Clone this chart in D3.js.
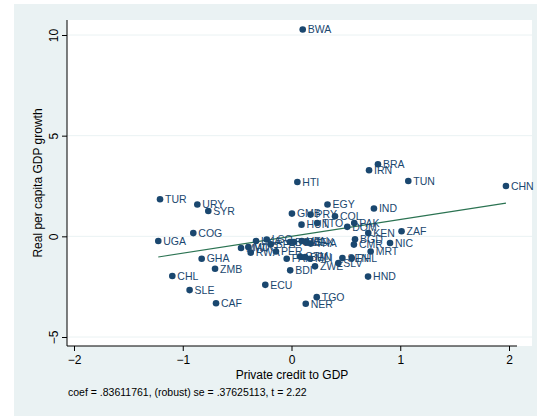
<!DOCTYPE html>
<html>
<head>
<meta charset="utf-8">
<script src="https://cdn.jsdelivr.net/npm/d3@7"></script>
<style>
  html, body { margin: 0; padding: 0; background: #ffffff; }
  svg { display: block; font-family: Arial, "Liberation Sans", sans-serif; }
</style>
</head>
<body>
<svg id="chart" width="537" height="416"></svg>
<script>
// Added-variable plot: growth residuals against private credit residuals
const countries = ["BWA","BRA","IRN","TUN","CHN","HTI","TUR","URY","SYR","EGY","IND","GMB","PRY","COL",
  "HUN","TTO","PAK","DOM","KEN","ZAF","COG","UGA","BGD","CMR","NIC","MRT","SEN","PHL","SLV","ZWE",
  "HND","GHA","ZMB","CHL","SLE","CAF","ECU","BDI","TGO","NER",
  "LSO","MWI","MDG","RWA","LKA","BFA","PER","PAN","BOL","ARG","VEN","MEX","THA","GTM","BEN","MLI"];
const credit = [0.103,0.795,0.713,1.074,1.972,0.054,-1.209,-0.866,-0.765,0.331,0.758,0.004,0.175,0.400,
  0.092,0.237,0.577,0.513,0.706,1.012,-0.903,-1.225,0.584,0.574,0.906,0.728,0.468,0.554,0.431,0.216,
  0.704,-0.826,-0.703,-1.096,-0.937,-0.694,-0.241,-0.012,0.232,0.131,
  -0.228,-0.464,-0.397,-0.375,-0.326,-0.191,-0.143,-0.044,-0.014,0.023,0.094,0.134,0.177,0.078,0.124,0.171];
const growth = [10.27,3.58,3.28,2.75,2.50,2.70,1.84,1.58,1.26,1.58,1.38,1.13,1.08,1.00,
  0.58,0.66,0.66,0.47,0.16,0.25,0.16,-0.23,-0.15,-0.41,-0.33,-0.75,-1.08,-1.08,-1.33,-1.49,
  -2.00,-1.11,-1.61,-1.97,-2.67,-3.32,-2.41,-1.69,-3.02,-3.35,
  -0.16,-0.58,-0.53,-0.81,-0.23,-0.40,-0.75,-1.11,-0.28,-0.28,-0.23,-0.28,-0.36,-1.00,-1.03,-1.11];
const xTicks = [-2, -1, 0, 1, 2];
const yTicks = [-5, 0, 5, 10];
const coef = 0.83611761, se = 0.37625113, tstat = 2.22;
const xTitle = "Private credit to GDP";
const yTitle = "Real per capita GDP growth";
const noteText = "coef = .83611761, (robust) se = .37625113, t = 2.22";

const W = 537, H = 416;
const outer = {x0: 14, y0: 4};
const plot = {x0: 67, x1: 517, y0: 20, y1: 346};
const whiteRight = 532;
const navy = "#1a476f";
const bg = "#eaf2f3";

const svg = d3.select("#chart");

// graph region and plot region
svg.append("rect").attr("x", outer.x0).attr("y", outer.y0)
  .attr("width", W - outer.x0).attr("height", H - outer.y0).attr("fill", bg);
svg.append("rect").attr("x", plot.x0).attr("y", plot.y0)
  .attr("width", whiteRight - plot.x0).attr("height", plot.y1 - plot.y0).attr("fill", "#ffffff");

const x = d3.scaleLinear().domain([-2, 2]).range([74, 509]);
const y = d3.scaleLinear().domain([-5, 10]).range([337, 35]);

// horizontal gridlines
svg.append("g").selectAll("line").data(yTicks).join("line")
  .attr("x1", plot.x0).attr("x2", whiteRight)
  .attr("y1", d => y(d)).attr("y2", d => y(d))
  .attr("stroke", bg).attr("stroke-width", 1);

// fitted line through the origin with the reported slope
const xr = d3.extent(credit);
svg.append("line")
  .attr("x1", x(xr[0])).attr("y1", y(coef * xr[0]))
  .attr("x2", x(xr[1])).attr("y2", y(coef * xr[1]))
  .attr("stroke", "#2b7352").attr("stroke-width", 1.1);

// markers and labels
const pts = countries.map((c, i) => ({c, x: credit[i], y: growth[i]}));
const gp = svg.append("g");
gp.selectAll("circle").data(pts).join("circle")
  .attr("cx", d => x(d.x)).attr("cy", d => y(d.y)).attr("r", 3.3).attr("fill", navy);
gp.selectAll("text").data(pts).join("text")
  .attr("x", d => x(d.x) + 5).attr("y", d => y(d.y)).attr("dy", "0.36em")
  .attr("font-size", 10.5).attr("fill", navy).text(d => d.c);

// axes
const xAxis = svg.append("g").attr("transform", `translate(0,${plot.y1})`)
  .call(d3.axisBottom(x).tickValues(xTicks).tickSize(5).tickSizeOuter(0).tickFormat(d3.format("d")));
xAxis.select(".domain").remove();
xAxis.append("line").attr("x1", plot.x0).attr("x2", plot.x1).attr("stroke", "#000");
xAxis.selectAll(".tick text").attr("font-size", 12).attr("fill", "#000").attr("y", 9)
  .attr("font-family", "Arial, 'Liberation Sans', sans-serif");
xAxis.selectAll(".tick line").attr("stroke", "#000");

const yAxis = svg.append("g").attr("transform", `translate(${plot.x0},0)`)
  .call(d3.axisLeft(y).tickValues(yTicks).tickSize(5).tickSizeOuter(0).tickFormat(d3.format("d")));
yAxis.select(".domain").remove();
yAxis.append("line").attr("y1", plot.y0).attr("y2", plot.y1).attr("stroke", "#000");
yAxis.selectAll(".tick line").attr("stroke", "#000");
yAxis.selectAll(".tick text")
  .attr("transform", "rotate(-90)").attr("x", 0).attr("y", -9).attr("dy", 0)
  .attr("text-anchor", "middle").attr("font-size", 12).attr("fill", "#000")
  .attr("font-family", "Arial, 'Liberation Sans', sans-serif");

// titles and note
svg.append("text").attr("x", (plot.x0 + plot.x1) / 2).attr("y", 379)
  .attr("text-anchor", "middle").attr("font-size", 12).attr("fill", "#000").text(xTitle);
svg.append("text")
  .attr("transform", `translate(42,${(plot.y0 + plot.y1) / 2}) rotate(-90)`)
  .attr("text-anchor", "middle").attr("font-size", 12).attr("fill", "#000").text(yTitle);
svg.append("text").attr("x", 68).attr("y", 396)
  .attr("font-size", 10.5).attr("fill", "#000").text(noteText);
</script>
</body>
</html>
